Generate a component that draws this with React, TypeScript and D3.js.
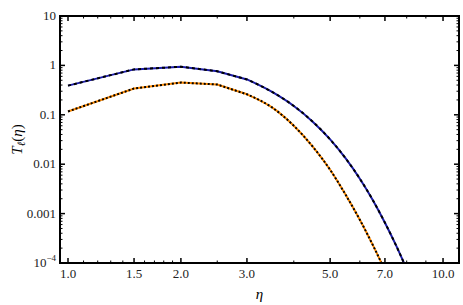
import React from 'react';
import * as d3 from 'd3';

const etaValues = [1, 1.5, 2, 2.5, 3, 3.5, 4, 4.5, 5, 5.5, 6, 6.5, 7, 7.5, 8];
const blueValues = [0.39, 0.83, 0.94, 0.76, 0.52, 0.291, 0.151, 0.0718, 0.0318, 0.0131, 0.00509, 0.00187, 0.000654, 0.000224, 0.0000749];
const orangeEta = [1, 1.5, 2, 2.5, 3, 3.5, 4, 4.5, 5, 5.5, 6, 6.5, 7];
const orangeValues = [0.117, 0.34, 0.45, 0.41, 0.26, 0.141, 0.06, 0.0224, 0.0077, 0.0024, 0.00075, 0.00023, 0.000071];

const xTicks = [1, 1.5, 2, 3, 5, 7, 10];
const xTickLabels = ['1.0', '1.5', '2.0', '3.0', '5.0', '7.0', '10.0'];
const xMinorTicks = [1.1, 1.2, 1.3, 1.4, 1.6, 1.7, 1.8, 1.9, 2.5, 4, 6, 8, 9];
const yTicks = [10, 1, 0.1, 0.01, 0.001, 0.0001];
const yTickLabels = ['10', '1', '0.1', '0.01', '0.001', '10'];

const W = 463;
const H = 305;
const margin = { left: 60, right: 4, top: 16, bottom: 42 };
const font = "'Liberation Serif', 'Times New Roman', Times, serif";

const App: React.FC = () => {
    const x = d3.scaleLog().domain([0.952, 11.03]).range([margin.left, W - margin.right]);
    const y = d3.scaleLog().domain([0.0001, 10]).range([H - margin.bottom, margin.top]);

    const yMinor: number[] = [];
    [0.0001, 0.001, 0.01, 0.1, 1].forEach(d => {
        for (let k = 2; k <= 9; k++) yMinor.push(d * k);
    });

    // straight segments up to eta = 3, smooth tail after that
    const lin = d3.line<[number, number]>().x(d => x(d[0])).y(d => y(d[1]));
    const smooth = d3.line<[number, number]>().x(d => x(d[0])).y(d => y(d[1])).curve(d3.curveMonotoneX);
    const pathOf = (data: [number, number][]) => {
        const head = data.filter(d => d[0] <= 3);
        const tail = data.filter(d => d[0] >= 3);
        return (lin(head) || '') + (smooth(tail) || '').replace(/^M/, 'L');
    };

    const blueData = etaValues.map((e, i) => [e, blueValues[i]] as [number, number]);
    const orangeData = orangeEta.map((e, i) => [e, orangeValues[i]] as [number, number]);

    const x0 = margin.left;
    const x1 = W - margin.right;
    const y0 = H - margin.bottom;
    const y1 = margin.top;

    return (
        <svg width={W} height={H} style={{ position: 'absolute', left: 0, top: 0 }}>
            <defs>
                <clipPath id="plot">
                    <rect x={x0} y={y1} width={x1 - x0} height={y0 - y1} />
                </clipPath>
            </defs>
            <rect width={W} height={H} fill="#fff" />
            <g clipPath="url(#plot)" fill="none">
                <path d={pathOf(blueData)} stroke="#1c1ca8" strokeWidth={2} />
                <path d={pathOf(blueData)} stroke="#000" strokeWidth={2} strokeDasharray="3,3" />
                <path d={pathOf(orangeData)} stroke="#ff8a00" strokeWidth={2} />
                <path d={pathOf(orangeData)} stroke="#000" strokeWidth={2} strokeDasharray="2,2" />
            </g>
            <g stroke="#000" strokeWidth={1}>
                {xTicks.map(t => (
                    <g key={'xt' + t}>
                        <line x1={x(t)} x2={x(t)} y1={y0} y2={y0 - 5} strokeWidth={1.5} />
                        <line x1={x(t)} x2={x(t)} y1={y1} y2={y1 + 5} strokeWidth={1.5} />
                    </g>
                ))}
                {xMinorTicks.map(t => (
                    <g key={'xm' + t}>
                        <line x1={x(t)} x2={x(t)} y1={y0} y2={y0 - 2.5} />
                        <line x1={x(t)} x2={x(t)} y1={y1} y2={y1 + 2.5} />
                    </g>
                ))}
                {yTicks.map(t => (
                    <g key={'yt' + t}>
                        <line x1={x0} x2={x0 + 5} y1={y(t)} y2={y(t)} strokeWidth={1.5} />
                        <line x1={x1} x2={x1 - 5} y1={y(t)} y2={y(t)} strokeWidth={1.5} />
                    </g>
                ))}
                {yMinor.map(t => (
                    <g key={'ym' + t}>
                        <line x1={x0} x2={x0 + 2.5} y1={y(t)} y2={y(t)} />
                        <line x1={x1} x2={x1 - 2.5} y1={y(t)} y2={y(t)} />
                    </g>
                ))}
            </g>
            <rect x={x0} y={y1} width={x1 - x0} height={y0 - y1} fill="none" stroke="#000" strokeWidth={2} />
            <g fontFamily={font} fontSize={13} fill="#222">
                {xTicks.map((t, i) => (
                    <text key={'xl' + t} x={x(t)} y={y0 + 15} textAnchor="middle">{xTickLabels[i]}</text>
                ))}
                {yTicks.map((t, i) => (
                    <text key={'yl' + t} x={x0 - 4} y={y(t) + 4} textAnchor="end">
                        {yTickLabels[i]}
                        {t === 0.0001 && <tspan fontSize={9} dy={-6}>−4</tspan>}
                    </text>
                ))}
            </g>
            <text x={(x0 + x1) / 2} y={H - 6} textAnchor="middle" fontFamily={font} fontStyle="italic" fontSize={15}>η</text>
            <text transform={`translate(22,${(y0 + y1) / 2}) rotate(-90)`} textAnchor="middle" fontFamily={font} fontSize={15}>
                <tspan fontStyle="italic">T</tspan>
                <tspan fontStyle="italic" fontSize={11} dy={3}>ℓ</tspan>
                <tspan dy={-3}>(</tspan>
                <tspan fontStyle="italic">η</tspan>
                <tspan>)</tspan>
            </text>
        </svg>
    );
};

export default App;
